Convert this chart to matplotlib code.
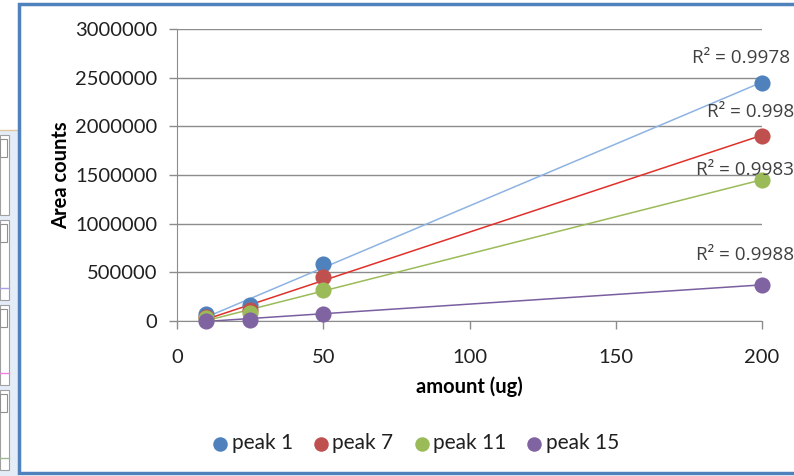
import numpy as np
import matplotlib
matplotlib.use("Agg")
import matplotlib.pyplot as plt
from matplotlib.patches import Rectangle
from matplotlib.ticker import FuncFormatter

plt.rcParams["font.family"] = ["Lato", "DejaVu Sans"]

amount = [10, 25, 50, 200]
series = ["peak 1", "peak 7", "peak 11", "peak 15"]
peak1 = [70000, 160000, 590000, 2450000]
peak7 = [40000, 112000, 452000, 1905000]
peak11 = [28000, 82000, 320000, 1452000]
peak15 = [5000, 15000, 75000, 372000]
r2_labels = ["R² = 0.9978", "R² = 0.998", "R² = 0.9983", "R² = 0.9988"]

marker_colors = ["#4F81BD", "#C0504D", "#9BBB59", "#8064A2"]
line_colors = ["#8DB3E2", "#E0302A", "#9BBB59", "#7A5FA0"]
# label offsets (pixels) relative to the last point
label_offsets = [(-70, 25), (-55, 24), (-66, 10), (-66, 30)]

W, H = 794, 476
fig = plt.figure(figsize=(W / 100, H / 100), dpi=100)

# left-side window fragments
fig.add_artist(Rectangle((0, 0), 18 / W, 1 - 130 / H, transform=fig.transFigure,
                         facecolor="#E3ECF7", edgecolor="none", zorder=-2))
fig.add_artist(plt.Line2D([0, 18 / W], [1 - 130 / H] * 2, transform=fig.transFigure,
                          color="#E0C8A0", lw=1, zorder=-2))
for top, line_col in [(135, None), (220, "#A8A0E8"), (305, "#F080E0"), (390, "#A0B890")]:
    fig.add_artist(Rectangle((0, 1 - (top + 80) / H), 9 / W, 80 / H, transform=fig.transFigure,
                             facecolor="white", edgecolor="#A0A0A0", lw=0.8, zorder=-2))
    fig.add_artist(Rectangle((0, 1 - (top + 22) / H), 7 / W, 18 / H, transform=fig.transFigure,
                             facecolor="white", edgecolor="#909090", lw=0.8, zorder=-2))
    if line_col:
        fig.add_artist(plt.Line2D([0, 9 / W], [1 - (top + 68) / H] * 2,
                                  transform=fig.transFigure, color=line_col, lw=1, zorder=-2))

# chart area with blue frame
fig.add_artist(Rectangle((19 / W, 1 - 473 / H), 1.2, (473 - 4) / H, transform=fig.transFigure,
                         facecolor="white", edgecolor="#4F81BD", lw=2.5, zorder=-1))

ax = fig.add_axes([177 / W, 1 - 321 / H, (762 - 177) / W, (321 - 29) / H])
ax.set_facecolor("none")

data = [peak1, peak7, peak11, peak15]
x = np.array(amount, dtype=float)
for name, vals, mc, lc, lab, off in zip(series, data, marker_colors, line_colors,
                                         r2_labels, label_offsets):
    y = np.array(vals, dtype=float)
    k, b = np.polyfit(x, y, 1)
    xs = np.array([x.min(), x.max()])
    ax.plot(xs, k * xs + b, color=lc, lw=1.1, zorder=2, clip_on=False)
    ax.scatter(x, y, s=135, color=mc, zorder=3, clip_on=False, label=name, linewidths=0)
    ax.annotate(lab, (x[-1], y[-1]), xytext=(off[0] * 0.72, off[1] * 0.72),
                textcoords="offset points", fontsize=13.6, color="#404040",
                family=["Open Sans", "DejaVu Sans"],
                ha="left", va="center", annotation_clip=False)

ax.set_xlim(0, 200)
ax.set_ylim(0, 3000000)
ax.set_xticks([0, 50, 100, 150, 200])
ax.set_yticks(np.arange(0, 3000001, 500000))
ax.yaxis.set_major_formatter(FuncFormatter(lambda v, p: f"{v:.0f}"))
ax.yaxis.grid(True, color="#8C8C8C", lw=1)
ax.set_axisbelow(True)
for s in ["top", "right"]:
    ax.spines[s].set_visible(False)
ax.spines["left"].set_color("#8C8C8C")
ax.spines["bottom"].set_color("#8C8C8C")
ax.tick_params(axis="both", colors="#8C8C8C", labelcolor="#202020", labelsize=14.5,
               length=6, width=1)
ax.tick_params(axis="x", pad=14)
ax.tick_params(axis="y", pad=8)

ax.set_xlabel("amount (ug)", fontsize=14.5, fontweight="bold", labelpad=8)
ax.set_ylabel("Area counts", fontsize=14.5, fontweight="bold", labelpad=3)

ax.legend(loc="upper center", bbox_to_anchor=(0.405, -0.32), ncol=4, frameon=False,
          fontsize=15, handletextpad=0.0, columnspacing=0.8, handlelength=1.1,
          markerscale=0.9, scatterpoints=1, labelcolor="#202020")

fig.savefig("out.png", dpi=100)
